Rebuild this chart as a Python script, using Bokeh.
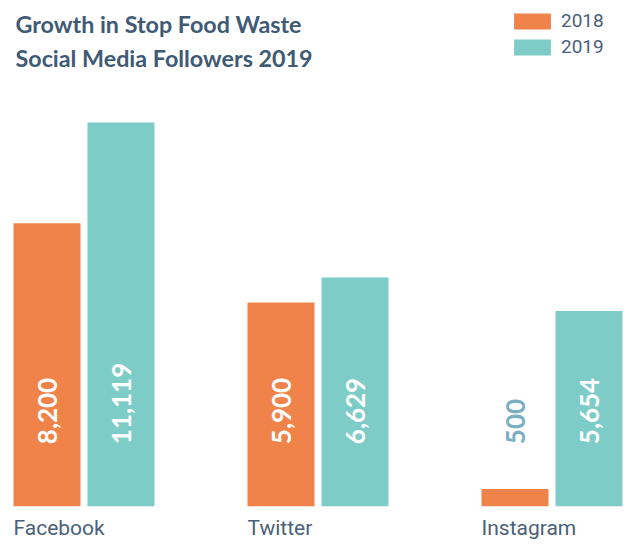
from bokeh.plotting import figure
from bokeh.models import Range1d, ColumnDataSource, Label, Legend, LegendItem
from bokeh.embed import file_html
from bokeh.resources import INLINE
from bokeh.core.properties import value
import math

categories = ["Facebook", "Twitter", "Instagram"]
followers_2018 = [8200, 5900, 500]
followers_2019 = [11119, 6629, 5654]
label_2018 = ["8,200", "5,900", "500"]
label_2019 = ["11,119", "6,629", "5,654"]
title_lines = ["Growth in Stop Food Waste", "Social Media Followers 2019"]

ORANGE = "#F0834A"
TEAL = "#7ECCC8"
TITLE_C = "#3F5A75"
TEXT_C = "#4B6079"
MUTED = "#7AAFC2"

W, H = 627, 558
S = 234.0            # px per category
U = 28.978           # data units per px
x0 = -83.5 / S
y_base_px = 505.7
y0 = -(H - y_base_px) * U
y1 = y_base_px * U

p = figure(width=W, height=H, output_backend="svg", toolbar_location=None,
           x_range=Range1d(x0, x0 + W / S), y_range=Range1d(y0, y1),
           min_border=0, outline_line_color=None)
p.axis.visible = False
p.grid.visible = False
p.background_fill_color = "white"
p.border_fill_color = "white"

idx = list(range(len(categories)))
bw = 67 / S
off = 37 / S

src18 = ColumnDataSource(dict(x=[i - off for i in idx], top=followers_2018, lab=label_2018,
                              col=["white" if v > 1500 else MUTED for v in followers_2018]))
src19 = ColumnDataSource(dict(x=[i + off for i in idx], top=followers_2019, lab=label_2019,
                              col=["white" if v > 1500 else MUTED for v in followers_2019]))

r18 = p.vbar(x="x", top="top", bottom=0, width=bw, source=src18, fill_color=ORANGE, line_color=None)
r19 = p.vbar(x="x", top="top", bottom=0, width=bw, source=src19, fill_color=TEAL, line_color=None)

for src in (src18, src19):
    p.text(x="x", y=0, text="lab", source=src, angle=math.pi / 2, text_align="left",
           text_baseline="middle", y_offset=-62, text_color="col",
           text_font=value("Lato"), text_font_style="bold", text_font_size="26px")

cat_src = ColumnDataSource(dict(x=[i - 70.5 / S for i in idx], cat=categories))
p.text(x="x", y=0, text="cat", source=cat_src, text_align="left", text_baseline="alphabetic",
       y_offset=22, text_color=TEXT_C, text_font=value("Roboto"), text_font_size="21px")

for k, line in enumerate(title_lines):
    p.add_layout(Label(x=x0 + 15 / S, y=y1 - (23 + 34 * k) * U, text=line,
                       text_font="Lato", text_font_style="bold", text_font_size="23.3px",
                       text_color=TITLE_C, text_baseline="alphabetic"))

legend = Legend(items=[LegendItem(label="2018", renderers=[r18]),
                       LegendItem(label="2019", renderers=[r19])],
                location=(509, 500), orientation="vertical",
                glyph_width=46, glyph_height=20, label_height=20, spacing=3,
                label_standoff=6, padding=0, margin=0,
                border_line_color=None, background_fill_alpha=0,
                label_text_font="Roboto", label_text_font_size="19px",
                label_text_color=TEXT_C, label_text_baseline="middle")
p.add_layout(legend)

open("out.html", "w").write(file_html(p, INLINE))
